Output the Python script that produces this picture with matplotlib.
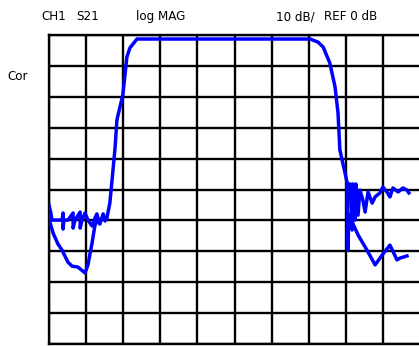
import matplotlib
matplotlib.use('Agg')
import matplotlib.pyplot as plt
import numpy as np

# x in screen divisions (0..10), y in dB (REF 0 dB at top, 10 dB/div)
trace_x = [0.0, 0.05, 0.08, 0.22, 0.35, 0.38, 0.38, 0.40, 0.51, 0.65, 0.65, 0.70,
           0.84, 0.84, 0.89, 0.97, 1.05, 1.16, 1.24, 1.29, 1.37, 1.46, 1.51, 1.56,
           1.64, 1.70, 1.78, 1.83, 1.99, 2.10, 2.18, 2.37, 7.04, 7.25, 7.39, 7.57,
           7.71, 7.79, 7.84, 7.98, 8.06, 8.09, 8.11, 8.17, 8.19, 8.25, 8.27, 8.33,
           8.38, 8.46, 8.52, 8.60, 8.71, 8.79, 8.92, 9.00, 9.11, 9.19, 9.27, 9.41,
           9.54, 9.65, 9.70]
trace_y = [-55.0, -57.6, -59.9, -59.9, -59.9, -57.6, -62.8, -59.9, -59.9, -57.6, -62.5, -59.9,
           -57.3, -62.5, -59.9, -57.6, -59.9, -61.8, -59.2, -57.9, -61.2, -57.9, -60.2, -59.2,
           -54.4, -46.9, -36.6, -27.5, -19.4, -7.1, -4.2, -1.3, -1.3, -2.3, -3.9, -9.1,
           -16.8, -25.2, -37.2, -44.7, -49.2, -53.4, -48.2, -63.1, -48.2, -59.9, -48.2, -58.3,
           -50.2, -53.4, -57.3, -50.8, -54.4, -52.4, -51.1, -49.2, -50.8, -52.4, -49.5, -50.8,
           -49.5, -50.2, -51.1]

# second sweep, lower stopband skirts
dip_left_x = [0.0, 0.03, 0.11, 0.24, 0.35, 0.51, 0.62, 0.78, 0.97, 1.05, 1.16, 1.24, 1.32]
dip_left_y = [-56.6, -60.8, -64.1, -67.6, -69.6, -73.5, -74.8, -75.1, -77.0, -74.4, -67.3, -61.5, -59.9]
dip_right_x = [8.03, 8.06, 8.08, 8.17, 8.33, 8.57, 8.79, 8.98, 9.19, 9.38, 9.46, 9.65]
dip_right_y = [-48.0, -69.6, -58.0, -60.5, -64.7, -69.6, -74.4, -71.2, -68.0, -72.8, -72.2, -71.5]

plt.rcParams['font.family'] = ['DejaVu Sans']

fig = plt.figure(figsize=(4.19, 3.46), dpi=100)
W, H = 419, 346
ax = fig.add_axes([49 / W, 1 - 344 / H, 371 / W, 309 / H])

ax.set_xlim(0, 10)
ax.set_ylim(-100, 0)
ax.set_xticks(np.arange(0, 11, 1))
ax.set_yticks(np.arange(-100, 1, 10))
ax.grid(True, color='black', linewidth=1.7)
ax.tick_params(length=0, labelbottom=False, labelleft=False)
for s in ax.spines.values():
    s.set_linewidth(1.7)

lw = 2.5
ax.plot(trace_x, trace_y, color='#0000ff', linewidth=lw, solid_joinstyle='round', zorder=3)
ax.plot(dip_left_x, dip_left_y, color='#0000ff', linewidth=lw, solid_joinstyle='round', zorder=3)
ax.plot(dip_right_x, dip_right_y, color='#0000ff', linewidth=lw, solid_joinstyle='round', zorder=3)

# header annotations
fs = 9.5
for label, px, pw in [('CH1', 43, 21), ('S21', 77, 22), ('log MAG', 137, 47),
                      ('10 dB/', 278, 35), ('REF 0 dB', 326, 50)]:
    fig.text((px + pw / 2) / W, 1 - 20 / H, label, fontsize=fs, ha='center',
             va='baseline', fontstretch='condensed')
fig.text(17.5 / W, 1 - 80 / H, 'Cor', fontsize=fs, ha='center', va='baseline',
         fontstretch='condensed')

fig.savefig('out.png', dpi=100)
